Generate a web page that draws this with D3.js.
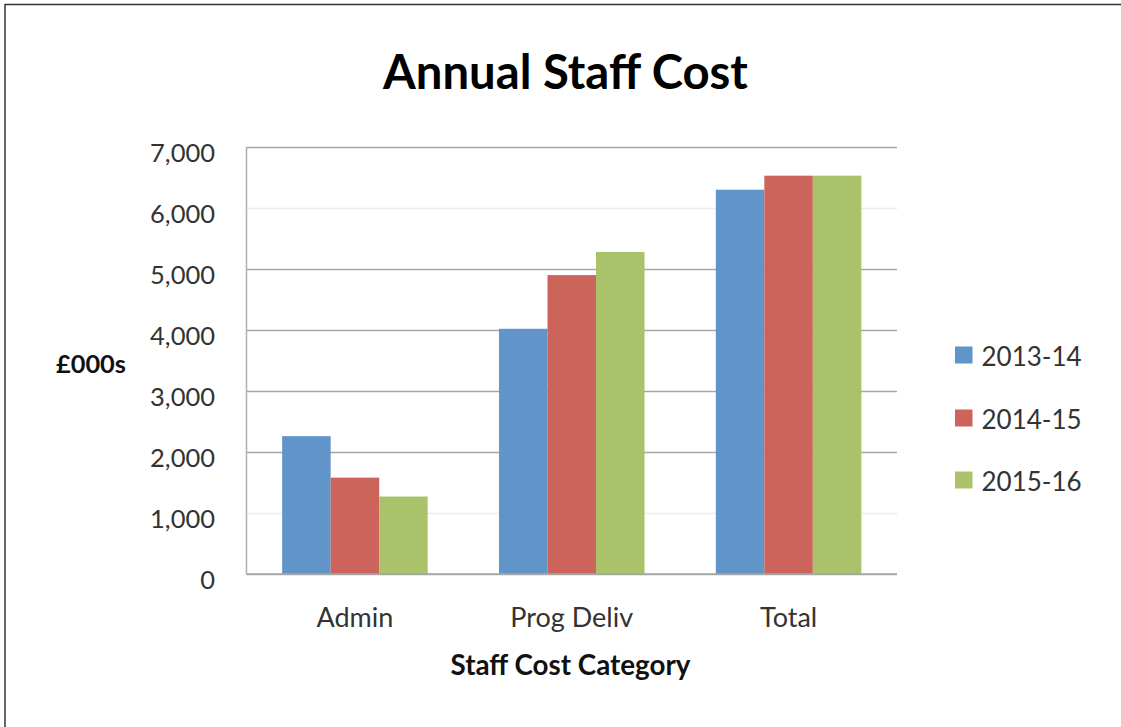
<!DOCTYPE html>
<html>
<head>
<meta charset="utf-8">
<script src="https://cdn.jsdelivr.net/npm/d3@7"></script>
<style>
  html, body { margin: 0; padding: 0; background: #fff; }
  svg { display: block; }
</style>
</head>
<body>
<div id="chart"></div>
<script>
const categories = ["Admin", "Prog Deliv", "Total"];
const seriesNames = ["2013-14", "2014-15", "2015-16"];
const values2013 = [2260, 4020, 6300];
const values2014 = [1580, 4900, 6530];
const values2015 = [1270, 5280, 6530];
const yTicks = [0, 1000, 2000, 3000, 4000, 5000, 6000, 7000];
const colors = ["#6194C9", "#CC645C", "#AAC36A"];
const titleText = "Annual Staff Cost";
const yTitle = "£000s";
const xTitle = "Staff Cost Category";

const seriesValues = [values2013, values2014, values2015];
const W = 1121, H = 727;
const svg = d3.select("#chart").append("svg").attr("width", W).attr("height", H);
svg.append("rect").attr("width", W).attr("height", H).attr("fill", "#fff");

function fitWidth(sel, base, target) {
  const w = sel.node().getComputedTextLength();
  sel.style("font-size", (base * target / w) + "px");
}

// frame (top and left)
svg.append("line").attr("x1", 5).attr("x2", W).attr("y1", 4.5).attr("y2", 4.5).attr("stroke", "#333").attr("stroke-width", 1.5);
svg.append("line").attr("x1", 5).attr("x2", 5).attr("y1", 4).attr("y2", H).attr("stroke", "#333").attr("stroke-width", 1.5);

const plot = {left: 246.5, right: 897, top: 147, bottom: 574};
const y = d3.scaleLinear().domain([0, 7000]).range([plot.bottom, plot.top]);
const x0 = d3.scaleBand().domain(categories).range([plot.left, plot.right]).padding(0);
const x1 = d3.scaleBand().domain(seriesNames).range([0, x0.bandwidth()]).paddingInner(0).paddingOuter(0.735);

const tickFont = "Lato, 'Open Sans', sans-serif";

// gridlines
const yAxis = d3.axisLeft(y).tickValues(yTicks).tickSize(-(plot.right - plot.left)).tickFormat(d3.format(","));
const gAxis = svg.append("g").attr("transform", `translate(${plot.left},0)`).call(yAxis);
gAxis.select(".domain").remove();
gAxis.selectAll(".tick line")
  .attr("stroke", d => (d === 1000 || d === 6000) ? "#ececec" : "#a6a6a6")
  .attr("stroke-width", 1.5);
gAxis.selectAll(".tick text")
  .attr("x", -31.5)
  .attr("dy", "0.55em")
  .attr("fill", "#333")
  .style("font-family", tickFont)
  .style("font-size", "25.5px");

// left axis line
svg.append("line").attr("x1", plot.left).attr("x2", plot.left).attr("y1", plot.top).attr("y2", plot.bottom)
  .attr("stroke", "#b0b0b0").attr("stroke-width", 1.5);

// bars
const groups = svg.append("g").selectAll("g").data(categories).join("g")
  .attr("transform", d => `translate(${x0(d)},0)`);
groups.selectAll("rect").data((c, ci) => seriesNames.map((s, si) => ({s, si, v: seriesValues[si][ci]})))
  .join("rect")
  .attr("x", d => x1(d.s))
  .attr("width", x1.bandwidth())
  .attr("y", d => y(d.v))
  .attr("height", d => y(0) - y(d.v))
  .attr("fill", d => colors[d.si]);

// baseline
svg.append("line").attr("x1", plot.left).attr("x2", plot.right).attr("y1", plot.bottom).attr("y2", plot.bottom)
  .attr("stroke", "#a6a6a6").attr("stroke-width", 1.5);

// x category labels
const xAxis = d3.axisBottom(x0).tickSize(0);
const gx = svg.append("g").attr("transform", `translate(0,${plot.bottom})`).call(xAxis);
gx.select(".domain").remove();
gx.selectAll(".tick text")
  .attr("y", 52.5).attr("dy", 0)
  .attr("fill", "#333")
  .style("font-family", tickFont)
  .style("font-size", "27px");

// axis titles
const yt = svg.append("text").attr("x", 56).attr("y", 373).text(yTitle)
  .attr("fill", "#111").style("font-family", tickFont).style("font-weight", "bold").style("font-size", "23px");
fitWidth(yt, 23, 70);
const xt = svg.append("text").attr("x", 570.5).attr("y", 675).attr("text-anchor", "middle").text(xTitle)
  .attr("fill", "#111").style("font-family", tickFont).style("font-weight", "bold").style("font-size", "24px");
fitWidth(xt, 24, 240);

// title
const t = svg.append("text").attr("x", 565.5).attr("y", 89).attr("text-anchor", "middle").text(titleText)
  .attr("fill", "#000").style("font-family", "Lato, 'Open Sans', sans-serif").style("font-weight", "bold").style("font-size", "40px");
fitWidth(t, 40, 365);

// legend
const legendY = [355, 418, 480];
const lg = svg.append("g").selectAll("g").data(seriesNames).join("g")
  .attr("transform", (d, i) => `translate(955,${legendY[i]})`);
lg.append("rect").attr("x", 0).attr("y", -8.5).attr("width", 17.5).attr("height", 17).attr("fill", (d, i) => colors[i]);
lg.append("text").attr("x", 26.5).attr("y", 10.5).text(d => d)
  .attr("fill", "#333").style("font-family", tickFont).style("font-size", "26px");
</script>
</body>
</html>
